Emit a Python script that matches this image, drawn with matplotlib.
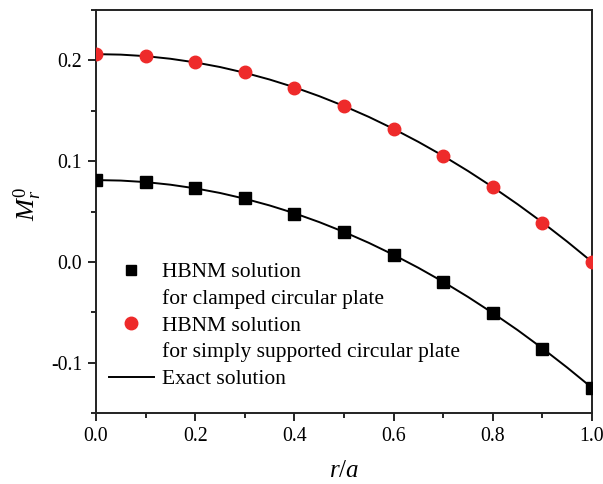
import matplotlib
matplotlib.use("Agg")
import matplotlib.pyplot as plt
from matplotlib.lines import Line2D
from matplotlib.ticker import MultipleLocator, FormatStrFormatter, FuncFormatter

plt.rcParams['font.family'] = ['Liberation Serif', 'DejaVu Serif']
plt.rcParams['mathtext.fontset'] = 'custom'
plt.rcParams['mathtext.rm'] = 'Liberation Serif'
plt.rcParams['mathtext.it'] = 'Liberation Serif:italic'

# HBNM points
r_pts = [0.0, 0.1, 0.2, 0.3, 0.4, 0.5, 0.6, 0.7, 0.8, 0.9, 1.0]
clamped_pts = [0.081, 0.079, 0.073, 0.063, 0.048, 0.030, 0.007, -0.020, -0.051, -0.086, -0.125]
simply_pts = [0.206, 0.204, 0.198, 0.188, 0.173, 0.155, 0.132, 0.105, 0.074, 0.039, 0.0]

# Exact solution curves
r_line = [0.0, 0.05, 0.1, 0.15, 0.2, 0.25, 0.3, 0.35, 0.4, 0.45, 0.5,
          0.55, 0.6, 0.65, 0.7, 0.75, 0.8, 0.85, 0.9, 0.95, 1.0]
clamped_line = [0.0812, 0.0807, 0.0792, 0.0766, 0.0730, 0.0684, 0.0627, 0.0560, 0.0483, 0.0395, 0.0297,
                0.0189, 0.0070, -0.0059, -0.0198, -0.0348, -0.0508, -0.0677, -0.0858, -0.1049, -0.1250]
simply_line = [0.2062, 0.2057, 0.2042, 0.2016, 0.1980, 0.1934, 0.1877, 0.1810, 0.1733, 0.1645, 0.1547,
               0.1439, 0.1320, 0.1191, 0.1052, 0.0902, 0.0742, 0.0572, 0.0392, 0.0201, 0.0]

fig = plt.figure(figsize=(6.03, 4.84), dpi=100)
ax = fig.add_axes([96/603, 1-413/484, (592-96)/603, (413-10)/484])

ax.plot(r_line, clamped_line, color='black', lw=1.4, zorder=2)
ax.plot(r_line, simply_line, color='black', lw=1.4, zorder=2)
ax.plot(r_pts, clamped_pts, 's', color='black', ms=8, zorder=3)
ax.plot(r_pts, simply_pts, 'o', color='#ee2a2a', mec='#ee2a2a', ms=9, zorder=3)

ax.set_xlim(0, 1.0)
ax.set_ylim(-0.15, 0.25)
ax.xaxis.set_major_locator(MultipleLocator(0.2))
ax.xaxis.set_minor_locator(MultipleLocator(0.1))
ax.yaxis.set_major_locator(MultipleLocator(0.1))
ax.yaxis.set_minor_locator(MultipleLocator(0.05))
ax.xaxis.set_major_formatter(FormatStrFormatter('%.1f'))
ax.yaxis.set_major_formatter(FuncFormatter(lambda v, p: ('%.1f' % v).replace('-0.0', '0.0')))
ax.tick_params(which='major', direction='out', length=6, width=1.2, labelsize=14.3,
               top=False, right=False, pad=4)
ax.tick_params(which='minor', direction='out', length=3.5, width=1.2, top=False, right=False)
for s in ax.spines.values():
    s.set_linewidth(1.4)
    s.set_color('#222222')

ax.set_xlabel('$r/a$', fontsize=18, labelpad=10)
ax.set_ylabel('$M_r^{\\mathrm{0}}$', fontsize=19, labelpad=4)
ax.yaxis.set_label_coords(-0.105, 0.52)

empty = Line2D([], [], linestyle='none', marker='none')
handles = [
    Line2D([], [], linestyle='none', marker='s', color='black', ms=7.5),
    empty,
    Line2D([], [], linestyle='none', marker='o', color='#ee2a2a', ms=9),
    empty,
    Line2D([], [], color='black', lw=1.4),
]
labels = ['HBNM solution', 'for clamped circular plate', 'HBNM solution',
          'for simply supported circular plate', 'Exact solution']
ax.legend(handles, labels, loc='lower left', bbox_to_anchor=(-0.005, 0.022), frameon=False,
          fontsize=15.5, handlelength=2.1, handletextpad=0.4, labelspacing=0.31, borderaxespad=0.3)

fig.savefig('out.png', dpi=100)
